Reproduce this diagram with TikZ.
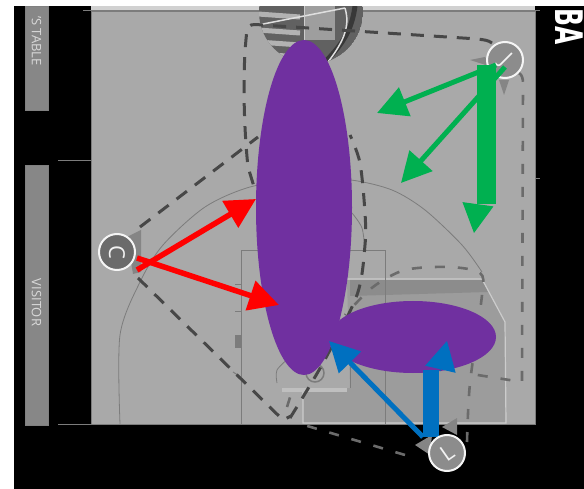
\documentclass[tikz,border=0pt]{standalone}
\usepackage{xcolor}
\usepackage{fontspec}
\setmainfont{Open Sans}
\newfontfamily\logofont{DejaVu Sans}
\usetikzlibrary{arrows.meta, shapes}
\definecolor{courtgray}{HTML}{A9A9A9}
\definecolor{panelgray}{HTML}{878787}
\definecolor{courtline}{HTML}{7C7C7C}
\definecolor{keyshade}{HTML}{9C9C9C}
\definecolor{playpurple}{HTML}{7030A0}
\definecolor{passred}{HTML}{FF0000}
\definecolor{passgreen}{HTML}{00B050}
\definecolor{passblue}{HTML}{0070C0}

\begin{document}
\begin{tikzpicture}[
  x=1pt, y=-1pt,
  panel/.style={rectangle, fill=panelgray, draw=gray, minimum width=23pt, inner sep=0pt},
  paneltext/.style={rotate=-90, text=black!15, font=\fontsize{13}{13}\selectfont, inner sep=0pt},
  courtlinestyle/.style={draw=courtline, line width=1pt},
  route/.style={draw=black!72, line width=3pt, dash pattern=on 13pt off 10pt},
  routelight/.style={draw=black!58, line width=2.6pt, dash pattern=on 10pt off 13pt},
  player/.style={circle, draw=white!92!gray, line width=2pt, minimum size=36pt, inner sep=0pt,
    text=white!90!gray, font=\fontsize{22}{22}\selectfont},
  marker/.style={fill=black!48},
  zone/.style={ellipse, fill=playpurple, inner sep=0pt},
  redpass/.style={draw=passred, line width=5.5pt, -{Triangle[length=30pt,width=30pt,fill=passred]}},
  greenpass/.style={draw=passgreen, line width=5pt, -{Triangle[length=30pt,width=30pt,fill=passgreen]}},
  bluepass/.style={draw=passblue, line width=5pt, -{Triangle[length=30pt,width=30pt,fill=passblue]}},
  bar/.style={line width=19pt},
  barhead/.style={line width=1pt, -{Triangle[length=29pt,width=31pt]}}
]
\useasboundingbox (0,0) rectangle (584,489);

% Background
\fill[black] (14,6) rectangle (584,489);
\fill[courtgray] (91,11) rectangle (535,424);
\fill[black!18] (91,6) rectangle (535,11);

% Side panels
\node[panel, minimum height=104pt] (tablepanel) at (36.5,58) {};
\node[panel, minimum height=260pt] (visitorpanel) at (36.5,295) {};
\node[paneltext, anchor=east] (tablelabel) at (36.5,66) {'S TABLE};
\node[paneltext] (visitorlabel) at (36.5,302.5) {VISITOR};

% Sideline ticks
\draw[courtlinestyle] (83,11) -- (91,11);
\draw[courtlinestyle] (58,161) -- (91,161);
\draw[courtlinestyle] (58,424.5) -- (91,424.5);
\draw[courtlinestyle] (535,11) -- (540,11);
\draw[courtlinestyle] (535,179) -- (540,179);

% Shaded key
\fill[keyshade] (347,280) -- (482,280) -- (505,322) -- (505,423) -- (303,423) -- (303,390) -- (350,388) -- cycle;
\fill[black!45] (350,280) -- (482,280) -- (488,292) -- (350,296) -- cycle;
\draw[black!20, line width=1.2pt] (345,279) -- (482,279) -- (505,322) -- (506,423) -- (303,423) -- (303,392);
\draw[black!25, line width=4pt] (282,390) -- (347,390);
\draw[courtline, line width=1pt] (350,388) -- (350,367);

% Court lines
\draw[courtlinestyle] (91,11) rectangle (535,424);
\draw[courtline, line width=1.5pt] (91,11.5) -- (535,11.5);
\draw[courtline, line width=0.8pt] plot[smooth] coordinates {(120,424) (120,335) (140,282) (163,245) (205,207) (250,187) (304,179) (351,180) (392,190) (425,210) (462,245) (482,272)};
\draw[courtlinestyle] (241,424) -- (241,251) -- (385,251) -- (385,424);
\draw[courtline, line width=0.8pt] plot[smooth] coordinates {(352,213) (362,228) (365,251)};
\draw[courtline, line width=0.8pt] plot[smooth] coordinates {(277,383) (277,370) (290,357)};
\draw[courtlinestyle] (235,285) -- (241,285);
\draw[courtlinestyle] (235,311) -- (241,311);
\draw[courtlinestyle] (233,372) -- (241,377);
\fill[courtline] (235,335) rectangle (241,348);
\draw[courtline, line width=1.5pt] (315,373) circle (9);

% Ball
\begin{scope}
\clip (259,6) rectangle (363,70);
\clip (311,12) circle (52);
\fill[black!62] (311,12) circle (52);
\foreach \ya in {14,30,42,54} {
  \draw[black!30, line width=5pt] (258,\ya) -- (300,\ya+3);
}
\fill[black!38] (304,6) rectangle (335,40);
\draw[black!78, line width=5pt] (325,62) .. controls (342,45) and (352,30) .. (355,6);
\draw[white!75!gray, line width=1.5pt] (258,25) -- (345,8);
\draw[white!75!gray, line width=1.5pt] (328,62) .. controls (345,40) and (350,25) .. (345,8);
\draw[black!20, line width=1pt] (304,6) -- (304,60);
\end{scope}

% Routes
\coordinate (jtop) at (492,43);
\coordinate (jright) at (519,73);
\coordinate (cup) at (140,227);
\coordinate (cdown) at (138,278);
\coordinate (lleft) at (405,455);
\coordinate (lright) at (467,442);
\draw[route] (cup) -- (258,137);
\draw[route] (cdown) -- (283,420) -- (291,416);
\draw[route] plot[smooth] coordinates {(290,418) (323,363) (357,295) (365,245) (365,213) (360,163) (350,135)};
\draw[route] (jtop) .. controls (488,40) and (484,40) .. (478,39) -- (262,25) .. controls (252,24) and (249,24) .. (247,30) .. controls (242,70) and (244,130) .. (248,167) -- (255,190);
\draw[routelight] (jright) .. controls (522,75) and (523,78) .. (523,84) -- (522,382) -- (465,373);
\draw[routelight] plot[smooth] coordinates {(lright) (470,383) (482,295) (480,273) (449,267) (405,270) (373,287) (345,315)};
\draw[routelight] (lleft) -- (304,425);
\draw[routelight] (287,407) -- (293,388);

% Player markers
\fill[marker] (470,60) -- (485,57) -- (492,67) -- cycle;
\fill[marker] (499,80) -- (509,80) -- (504,95) -- cycle;
\fill[marker] (127,237) -- (141,230) -- (141,272) -- (133,274) -- cycle;
\fill[marker] (415,445) -- (432,435) -- (430,455) -- cycle;
\fill[marker] (442,427) -- (457,418) -- (457,435) -- cycle;

% Play zones
\node[zone, minimum width=96pt, minimum height=335pt] (tallzone) at (304,207.5) {};
\node[zone, minimum width=166pt, minimum height=72pt] (widezone) at (413,337) {};

% Players
\node[player, fill=black!58] (pc) at (117,252) {\rotatebox{-90}{C}};
\node[player, fill=black!45] (pj) at (505,60) {\rotatebox{-45}{J}};

% Red arrows
\coordinate (redtaila) at (137,270);
\coordinate (redtailb) at (137,258);
\coordinate (redtipa) at (256,199);
\coordinate (redtipb) at (279,305);
\draw[redpass] (redtaila) -- (redtipa);
\draw[redpass] (redtailb) -- (redtipb);

% Green arrows
\coordinate (greentaila) at (496,65);
\coordinate (greentailb) at (505,67);
\coordinate (greentipa) at (377,113);
\coordinate (greentipb) at (401,183);
\draw[greenpass] (greentaila) -- (greentipa);
\draw[greenpass] (greentailb) -- (greentipb);
\coordinate (greentop) at (486.5,65);
\coordinate (greenend) at (486.5,204);
\coordinate (greenbase) at (478,204);
\coordinate (greentip) at (474,233);
\draw[passgreen, bar] (greentop) -- (greenend);
\draw[passgreen, barhead, fill=passgreen] (greenbase) -- (greentip);

% Blue arrows
\coordinate (bluetail) at (423,437);
\coordinate (bluetip) at (329,341);
\draw[bluepass] (bluetail) -- (bluetip);
\coordinate (bluebottom) at (431,437);
\coordinate (bluetop) at (431,370);
\coordinate (bluebase) at (440,371);
\coordinate (bluehead) at (447,341);
\draw[passblue, line width=16.5pt] (bluebottom) -- (bluetop);
\draw[passblue, barhead, fill=passblue] (bluebase) -- (bluehead);

\node[player, fill=black!45] (pl) at (447,453) {\rotatebox{35}{L}};

% Logo
\node[rotate=-90, text=white, inner sep=0pt, anchor=center, font=\logofont\bfseries\fontsize{38}{38}\selectfont] (logo) at (569,27) {\scalebox{0.62}[1]{BA}};
\fill[white] (0,0) rectangle (584,6);
\fill[white] (0,0) rectangle (14,489);

\end{tikzpicture}
\end{document}
